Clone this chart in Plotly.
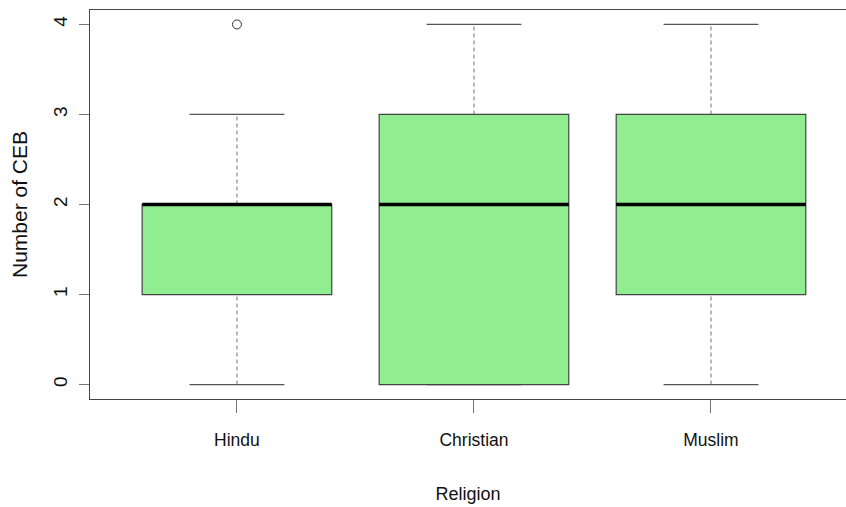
import plotly.graph_objects as go

# Summary statistics of children ever born (CEB) by religion
categories = ["Hindu", "Christian", "Muslim"]
lower_whisker = [0, 0, 0]
q1 = [1, 0, 1]
median = [2, 2, 2]
q3 = [2, 3, 3]
upper_whisker = [3, 4, 4]
outliers = [[4], [], []]
y_ticks = [0, 1, 2, 3, 4]

positions = [i + 1 for i in range(len(categories))]
box_half = 0.4      # half of the box width (boxwex 0.8)
cap_half = 0.2      # half of the staple width

FILL = "#90EE90"
EDGE = "#444444"
FONT = "Liberation Sans, Arial, sans-serif"

fig = go.Figure()
shapes = []

for x, lo, a, m, b, hi in zip(positions, lower_whisker, q1, median, q3, upper_whisker):
    # dashed whiskers
    shapes.append(dict(type="line", xref="x", yref="y", x0=x, x1=x, y0=lo, y1=a,
                       line=dict(color="#8a8a8a", width=1.2, dash="4px,3px")))
    shapes.append(dict(type="line", xref="x", yref="y", x0=x, x1=x, y0=b, y1=hi,
                       line=dict(color="#8a8a8a", width=1.2, dash="4px,3px")))
    # staples
    for v in (lo, hi):
        shapes.append(dict(type="line", xref="x", yref="y", x0=x - cap_half, x1=x + cap_half,
                           y0=v, y1=v, line=dict(color="#555555", width=1.2)))
    # box
    shapes.append(dict(type="rect", xref="x", yref="y", x0=x - box_half, x1=x + box_half,
                       y0=a, y1=b, fillcolor=FILL, line=dict(color=EDGE, width=1.2)))
    # median
    shapes.append(dict(type="line", xref="x", yref="y", x0=x - box_half, x1=x + box_half,
                       y0=m, y1=m, line=dict(color="black", width=3.5)))

# outlying points
ox, oy = [], []
for x, pts in zip(positions, outliers):
    for p in pts:
        ox.append(x)
        oy.append(p)
fig.add_trace(go.Scatter(x=ox, y=oy, mode="markers",
                         marker=dict(symbol="circle-open", size=9, color="#333333",
                                     line=dict(width=1)),
                         showlegend=False, hoverinfo="skip"))

fig.update_layout(
    width=846, height=507,
    margin=dict(l=90, r=0, t=10, b=108),
    paper_bgcolor="white", plot_bgcolor="white",
    shapes=shapes,
    font=dict(family=FONT, size=17, color="#111111"),
    showlegend=False,
)

fig.update_xaxes(
    range=[0.38, 3.5696],
    tickmode="array", tickvals=positions, ticktext=categories,
    tickfont=dict(size=17.5),
    showgrid=False, zeroline=False,
    showline=True, linecolor=EDGE, linewidth=1.2, mirror=True,
    ticks="outside", ticklen=13, tickcolor="#777777", tickwidth=1.2,
    ticklabelstandoff=12,
    title=dict(text="Religion", standoff=38, font=dict(size=18)),
)

fig.update_yaxes(
    range=[-0.16, 4.16],
    tickmode="array", tickvals=y_ticks, ticktext=[str(t) for t in y_ticks],
    tickangle=-90, tickfont=dict(size=19),
    showgrid=False, zeroline=False,
    showline=True, linecolor=EDGE, linewidth=1.2, mirror=False,
    ticks="outside", ticklen=10, tickcolor="#777777", tickwidth=1.2,
    ticklabelstandoff=4,
    title=dict(text="Number of CEB", standoff=16, font=dict(size=21)),
)

fig.write_html("out.html")
